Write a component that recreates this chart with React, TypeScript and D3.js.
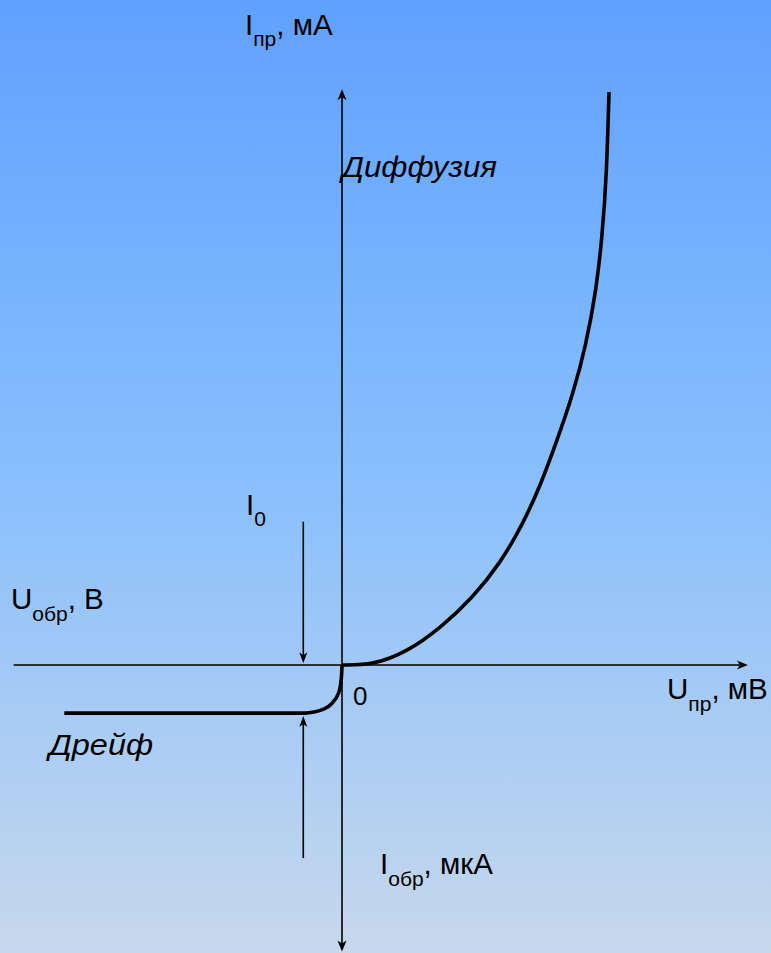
import React from "react";
import * as d3 from "d3";

// Forward branch (U_пр in relative mV units, I_пр in relative mA units)
const forwardU = [0, 11.6, 24.3, 36.9, 49.2, 59.3, 67.5, 74.4, 80.6, 86.4, 91.4, 95.2, 97.5, 99.1, 100];
const forwardI = [0, 0, 2.27, 6.46, 11.87, 17.8, 24.4, 31.4, 39.3, 47.1, 55.8, 65.4, 75.0, 85.5, 100];

// Reverse branch (U_обр, I_обр in relative units)
const reverseU = [0, -0.3, -1.2, -3.4, -6.5, -10.5, -13.9, -104];
const reverseI = [0, -2.5, -4.8, -6.5, -7.6, -8.2, -8.4, -8.4];

// I0 indicator arrows (U position, from I, to I)
const i0U = -14.5;
const i0Upper = [25, 0.3];
const i0Lower = [-33.7, -8.9];

// Axis extents
const axisX = [-123, 152];
const axisY = [-50, 100.5];

const W = 771;
const H = 953;

export default function App() {
  const x = d3.scaleLinear().domain([0, 100]).range([342, 609]);
  const y = d3.scaleLinear().domain([0, 100]).range([665, 92]);

  const fwd = forwardU.map((u, i) => [u, forwardI[i]] as [number, number]);
  const rev = reverseU.map((u, i) => [u, reverseI[i]] as [number, number]);

  const line = d3
    .line<[number, number]>()
    .x((d) => x(d[0]))
    .y((d) => y(d[1]))
    .curve(d3.curveBasis);
  const revLine = d3
    .line<[number, number]>()
    .x((d) => x(d[0]))
    .y((d) => y(d[1]))
    .curve(d3.curveMonotoneY);

  const arrowHead = (tx: number, ty: number, angle: number, len = 11, hw = 4.5) => {
    const p = d3.path();
    p.moveTo(0, 0);
    p.lineTo(-len, -hw);
    p.lineTo(-len * 0.72, 0);
    p.lineTo(-len, hw);
    p.closePath();
    return (
      <path
        d={p.toString()}
        transform={`translate(${tx},${ty}) rotate(${angle})`}
        fill="#000"
      />
    );
  };

  const font = "'Liberation Sans', Arial, sans-serif";
  const big = 29.5;
  const small = 21;

  return (
    <svg
      width={W}
      height={H}
      style={{ position: "absolute", left: 0, top: 0, display: "block" }}
      fontFamily={font}
    >
      <defs>
        <linearGradient id="bg" x1="0" y1="0" x2="0" y2="1">
          <stop offset="0" stopColor="#60a1ff" />
          <stop offset="0.5" stopColor="#88bffd" />
          <stop offset="1" stopColor="#c7d8ec" />
        </linearGradient>
      </defs>
      <rect x={0} y={0} width={W} height={H} fill="url(#bg)" />

      {/* horizontal axis */}
      <line x1={x(axisX[0])} x2={x(axisX[1]) - 4} y1={y(0)} y2={y(0)} stroke="#000" strokeWidth={1.6} />
      {arrowHead(x(axisX[1]), y(0), 0)}
      {/* vertical axis */}
      <line x1={x(0)} x2={x(0)} y1={y(axisY[1]) + 4} y2={y(axisY[0]) - 4} stroke="#000" strokeWidth={1.6} />
      {arrowHead(x(0), y(axisY[1]), -90)}
      {arrowHead(x(0), y(axisY[0]), 90)}

      {/* I0 arrows */}
      <line x1={x(i0U)} x2={x(i0U)} y1={y(i0Upper[0])} y2={y(i0Upper[1]) - 4} stroke="#000" strokeWidth={1.6} />
      {arrowHead(x(i0U), y(i0Upper[1]), 90, 11, 4)}
      <line x1={x(i0U)} x2={x(i0U)} y1={y(i0Lower[0])} y2={y(i0Lower[1]) + 4} stroke="#000" strokeWidth={1.6} />
      {arrowHead(x(i0U), y(i0Lower[1]), -90, 11, 4)}

      {/* curves */}
      <path d={line(fwd) || ""} fill="none" stroke="#000" strokeWidth={3.6} strokeLinejoin="round" />
      <path d={revLine(rev) || ""} fill="none" stroke="#000" strokeWidth={3.6} strokeLinejoin="round" />

      {/* labels */}
      <text x={245} y={35} fontSize={big} fill="#000">
        <tspan>I</tspan>
        <tspan fontSize={small} dy={11}>пр</tspan>
        <tspan dy={-11}>, мА</tspan>
      </text>
      <text x={342} y={177} fontSize={29} fontStyle="italic" fill="#000" textLength={155} lengthAdjust="spacingAndGlyphs">Диффузия</text>
      <text x={246} y={515} fontSize={big} fill="#000">
        <tspan>I</tspan>
        <tspan fontSize={small} dy={11}>0</tspan>
      </text>
      <text x={11} y={609} fontSize={big} fill="#000">
        <tspan>U</tspan>
        <tspan fontSize={small} dy={12}>обр</tspan>
        <tspan dy={-12}>, В</tspan>
      </text>
      <text x={353} y={705} fontSize={26} fill="#000">0</text>
      <text x={667} y={699} fontSize={big} fill="#000">
        <tspan>U</tspan>
        <tspan fontSize={small} dy={12}>пр</tspan>
        <tspan dy={-12}>, мВ</tspan>
      </text>
      <text x={49} y={755} fontSize={29} fontStyle="italic" fill="#000" textLength={104} lengthAdjust="spacingAndGlyphs">Дрейф</text>
      <text x={380} y={874} fontSize={big} fill="#000">
        <tspan>I</tspan>
        <tspan fontSize={small} dy={12}>обр</tspan>
        <tspan dy={-12}>, мкА</tspan>
      </text>
    </svg>
  );
}
